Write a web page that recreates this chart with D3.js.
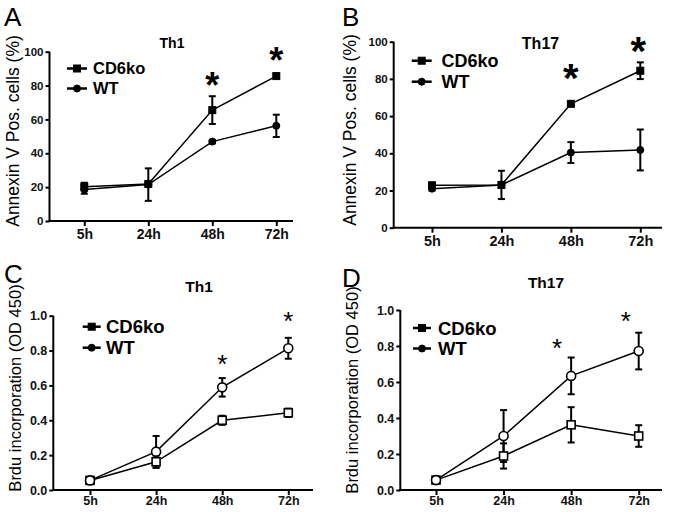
<!DOCTYPE html>
<html><head><meta charset="utf-8">
<script src="https://cdn.jsdelivr.net/npm/d3@7"></script>
<style>body{margin:0;background:#fff}svg{display:block;font-family:"Liberation Sans",Arial,sans-serif}</style>
</head><body><svg id="c" width="677" height="512"></svg>
<script>
const categories = ["5h","24h","48h","72h"];
const seriesNames = ["CD6ko","WT"];
// Panel A: Th1 Annexin V
const A_cd6ko = [20.3, 21.9, 65.5, 85.6];
const A_cd6ko_err = [2.3, 1.0, 8.2, 1.0];
const A_wt = [18.6, 21.5, 46.9, 56.2];
const A_wt_err = [2.5, 9.6, 1.0, 6.6];
// Panel B: Th17 Annexin V
const B_cd6ko = [22.8, 23.0, 66.6, 84.4];
const B_cd6ko_err = [1.0, 1.0, 1.0, 4.5];
const B_wt = [21.0, 23.0, 40.4, 41.8];
const B_wt_err = [1.0, 7.6, 5.6, 11.0];
// Panel C: Th1 Brdu
const C_cd6ko = [0.055, 0.162, 0.400, 0.443];
const C_cd6ko_err = [0.01, 0.035, 0.026, 0.024];
const C_wt = [0.055, 0.220, 0.589, 0.813];
const C_wt_err = [0.01, 0.090, 0.053, 0.060];
// Panel D: Th17 Brdu
const D_cd6ko = [0.055, 0.189, 0.362, 0.300];
const D_cd6ko_err = [0.01, 0.070, 0.098, 0.060];
const D_wt = [0.055, 0.300, 0.634, 0.772];
const D_wt_err = [0.01, 0.144, 0.102, 0.102];
const yTicksPct = [0,20,40,60,80,100];
const yTicksOD = [0,0.2,0.4,0.6,0.8,1.0];
const stars = {A:["48h","72h"], B:["48h","72h"], C:["48h","72h"], D:["48h","72h"]};

const svg = d3.select("#c");

const panels = [
 {id:"A", title:"Th1", ylab:"Annexin V Pos. cells (%)", d:[A_cd6ko,A_wt], e:[A_cd6ko_err,A_wt_err], ymax:100, ticks:yTicksPct, fmt:d3.format("d"), open:false,
  x0:49.5, x1:293, c0:84.3, c1:276.3, yT:51.7, yB:221, lx:67, ly:68.5, ldy:20, lw:20, ltx:93, fs:16.5,
  titleX:172, titleY:48, titleFs:14, letX:4, letY:26, ylabX:18.5, ylabY:131, ylabFs:17.5, starY:[77,52.5], starFs:36, starW:"bold", starDx:[0,0], tickFs:11.5, xtFs:14, xtDy:23},
 {id:"B", title:"Th17", ylab:"Annexin V Pos. cells (%)", d:[B_cd6ko,B_wt], e:[B_cd6ko_err,B_wt_err], ymax:100, ticks:yTicksPct, fmt:d3.format("d"), open:false,
  x0:393.7, x1:662, c0:432, c1:640.3, yT:41.7, yB:227.7, lx:411.7, ly:60.7, ldy:21, lw:20, ltx:441.5, fs:18,
  titleX:540.5, titleY:49, titleFs:16, letX:342, letY:26, ylabX:355.5, ylabY:130, ylabFs:17.5, starY:[69,42.5], starFs:40, starW:"bold", starDx:[0,-2], tickFs:11.5, xtFs:14.5, xtDy:23},
 {id:"C", title:"Th1", ylab:"Brdu incorporation (OD 450)", d:[C_cd6ko,C_wt], e:[C_cd6ko_err,C_wt_err], ymax:1, ticks:yTicksOD, fmt:d3.format(".1f"), open:true,
  x0:53.3, x1:313, c0:90, c1:288.3, yT:315.7, yB:490, lx:82.7, ly:326.7, ldy:21, lw:18, ltx:106, fs:18.5,
  titleX:199, titleY:292, titleFs:15.5, letX:4, letY:283, ylabX:20.5, ylabY:388, ylabFs:16.5, starY:[358,315], starFs:26, starW:"normal", starDx:[0,0], tickFs:12.5, xtFs:12.5, xtDy:19},
 {id:"D", title:"Th17", ylab:"Brdu incorporation (OD 450)", d:[D_cd6ko,D_wt], e:[D_cd6ko_err,D_wt_err], ymax:1, ticks:yTicksOD, fmt:d3.format(".1f"), open:true,
  x0:400.3, x1:662, c0:436, c1:638.7, yT:310, yB:490, lx:413, ly:328, ldy:20.5, lw:18, ltx:438, fs:18.5,
  titleX:546, titleY:288, titleFs:15.5, letX:342, letY:287, ylabX:357.5, ylabY:390, ylabFs:16.5, starY:[342,315], starFs:26, starW:"normal", starDx:[-14,-13], tickFs:12.5, xtFs:12.5, xtDy:19}
];

function marker(g, kind, x, y, open, size){
  if(kind===0){
    g.append("rect").attr("x",x-size/2).attr("y",y-size/2).attr("width",size).attr("height",size)
     .attr("fill",open?"#fff":"#000").attr("stroke","#000").attr("stroke-width",open?1.6:1);
  } else {
    g.append("circle").attr("cx",x).attr("cy",y).attr("r",size/2+ (open?0.5:0))
     .attr("fill",open?"#fff":"#000").attr("stroke","#000").attr("stroke-width",open?1.6:1);
  }
}

panels.forEach(p=>{
  const g = svg.append("g");
  const x = d3.scalePoint().domain(categories).range([p.c0,p.c1]);
  const y = d3.scaleLinear().domain([0,p.ymax]).range([p.yB,p.yT]);
  // y axis
  const ya = g.append("g").attr("transform",`translate(${p.x0},0)`)
    .call(d3.axisLeft(y).tickValues(p.ticks).tickFormat(p.fmt).tickSize(4).tickPadding(2));
  ya.select(".domain").attr("stroke-width",2).attr("d",`M0,${p.yT}V${p.yB+1}`);
  ya.selectAll(".tick line").attr("stroke-width",2);
  ya.selectAll("text").attr("font-size",p.tickFs).attr("font-weight","bold").attr("fill","#111");
  // x axis
  const xa = g.append("g").attr("transform",`translate(0,${p.yB})`)
    .call(d3.axisBottom(x).tickSize(5).tickPadding(4));
  xa.select(".domain").remove();
  xa.append("line").attr("x1",p.x0-1).attr("x2",p.x1).attr("stroke","#000").attr("stroke-width",2);
  xa.selectAll(".tick line").attr("stroke-width",2);
  xa.selectAll("text").attr("font-size",p.xtFs).attr("font-weight","bold").attr("fill","#111")
    .attr("dy",null).attr("y",p.xtDy - p.xtFs*0.35);
  // lines, error bars, markers
  const line = d3.line().x((d,i)=>x(categories[i])).y(d=>y(d));
  const msz = p.open ? 8 : 7;
  p.d.forEach((vals,s)=>{
    g.append("path").datum(vals).attr("d",line).attr("fill","none").attr("stroke","#000").attr("stroke-width",1.5);
  });
  p.d.forEach((vals,s)=>{
    vals.forEach((v,i)=>{
      const cx = x(categories[i]);
      const e = p.e[s][i];
      const eg = g.append("g").attr("stroke","#000").attr("stroke-width",2);
      eg.append("line").attr("x1",cx).attr("x2",cx).attr("y1",y(v+e)).attr("y2",y(v-e));
      eg.append("line").attr("x1",cx-3.5).attr("x2",cx+3.5).attr("y1",y(v+e)).attr("y2",y(v+e));
      eg.append("line").attr("x1",cx-3.5).attr("x2",cx+3.5).attr("y1",y(v-e)).attr("y2",y(v-e));
    });
  });
  p.d.forEach((vals,s)=>{
    vals.forEach((v,i)=>{ marker(g, s, x(categories[i]), y(v), p.open, msz); });
  });
  // stars
  stars[p.id].forEach((c,k)=>{
    g.append("text").attr("x",x(c)+p.starDx[k]).attr("y",p.starY[k]+p.starFs*0.57).attr("text-anchor","middle")
      .attr("font-size",p.starFs).attr("font-weight",p.starW).text("*");
  });
  // legend
  seriesNames.forEach((n,s)=>{
    const ly = p.ly + s*p.ldy;
    g.append("line").attr("x1",p.lx).attr("x2",p.lx+p.lw).attr("y1",ly).attr("y2",ly).attr("stroke","#000").attr("stroke-width",2.5);
    marker(g, s, p.lx+p.lw/2, ly, false, 7);
    g.append("text").attr("x",p.ltx).attr("y",ly+p.fs*0.36).attr("font-size",p.fs).attr("font-weight","bold").text(n);
  });
  // title
  g.append("text").attr("x",p.titleX).attr("y",p.titleY).attr("text-anchor","middle")
    .attr("font-size",p.titleFs).attr("font-weight","bold").text(p.title);
  // panel letter
  g.append("text").attr("x",p.letX).attr("y",p.letY).attr("font-size",26).text(p.id);
  // y label
  g.append("text").attr("transform",`translate(${p.ylabX},${p.ylabY}) rotate(-90)`)
    .attr("text-anchor","middle").attr("font-size",p.ylabFs).text(p.ylab);
});
</script></body></html>
